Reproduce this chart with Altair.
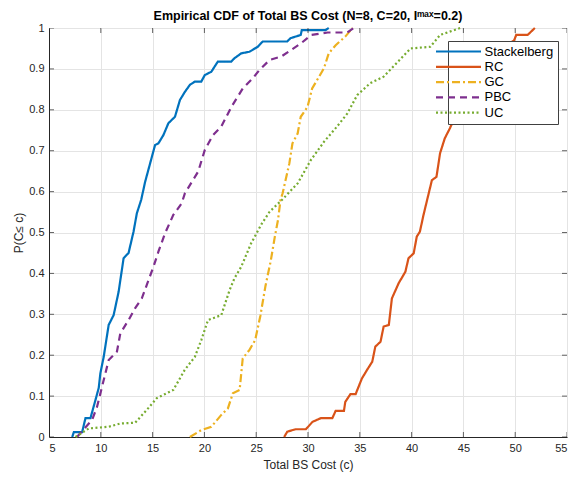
import altair as alt
import pandas as pd

series_names = ["Stackelberg", "RC", "GC", "PBC", "UC"]
colors = ["#0072BD", "#D95319", "#EDB120", "#7E2F8E", "#77AC30"]
dashes = [[1, 0], [1, 0], [8, 3, 2, 3], [7, 5], [2, 2.5]]

x_ticks = [5, 10, 15, 20, 25, 30, 35, 40, 45, 50, 55]
y_ticks = [0, 0.1, 0.2, 0.3, 0.4, 0.5, 0.6, 0.7, 0.8, 0.9, 1]

stack_x = [7.24, 7.4, 8.2, 8.52, 9.0, 9.48, 9.8, 9.96, 10.28, 10.76, 11.24, 11.72, 12.2, 12.68,
           13.16, 13.48, 13.9, 14.28, 14.76, 15.24, 15.56, 16.04, 16.52, 17.16, 17.64, 18.12,
           18.6, 19.08, 19.7, 20.04, 20.67, 21.3, 22.6, 22.9, 23.55, 24.35, 25.15, 25.63, 28.0,
           28.3, 29.3, 29.4, 31.7, 32.0]
stack_p = [0, 0.012, 0.012, 0.046, 0.046, 0.09, 0.12, 0.156, 0.196, 0.274, 0.298, 0.355, 0.437,
           0.45, 0.502, 0.547, 0.58, 0.624, 0.669, 0.714, 0.718, 0.738, 0.767, 0.783, 0.824, 0.844,
           0.861, 0.869, 0.869, 0.885, 0.893, 0.918, 0.918, 0.926, 0.938, 0.942, 0.954, 0.967,
           0.967, 0.975, 0.983, 0.995, 0.995, 1.0]

rc_x = [27.7, 28.0, 28.8, 29.8, 30.43, 31.23, 32.35, 32.67, 33.47, 33.6, 34.1, 34.6, 35.2, 35.7,
        36.2, 36.5, 37.0, 37.3, 37.8, 38.1, 38.75, 39.4, 39.7, 40.2, 40.5, 40.8, 41.15, 41.55,
        41.96, 42.4, 42.75, 43.2, 43.7, 44.5, 45.5, 47.0, 48.8, 49.9, 50.1, 51.2, 51.9]
rc_p = [0, 0.013, 0.019, 0.019, 0.037, 0.046, 0.046, 0.064, 0.064, 0.086, 0.105, 0.105, 0.143,
        0.164, 0.184, 0.221, 0.233, 0.27, 0.274, 0.339, 0.376, 0.404, 0.437, 0.449, 0.49, 0.502,
        0.543, 0.585, 0.628, 0.636, 0.694, 0.73, 0.755, 0.8, 0.85, 0.9, 0.95, 0.97, 0.983, 0.983,
        1.0]

gc_x = [18.6, 19.7, 20.67, 21.63, 22.27, 22.75, 23.4, 23.7, 24.35, 24.9, 25.4, 25.9, 26.4, 26.8,
        27.1, 27.35, 27.55, 28.2, 28.5, 29.0, 29.3, 29.95, 30.4, 31.07, 31.55, 32.0, 32.67, 33.6,
        34.3]
gc_p = [0, 0.017, 0.025, 0.054, 0.07, 0.107, 0.115, 0.192, 0.213, 0.237, 0.296, 0.37, 0.43, 0.49,
        0.53, 0.58, 0.596, 0.669, 0.718, 0.742, 0.783, 0.807, 0.852, 0.881, 0.902, 0.938, 0.958,
        0.979, 1.0]

pbc_x = [7.7, 9.16, 9.64, 10.12, 10.76, 11.56, 11.88, 12.68, 13.32, 13.96, 14.44, 15.08, 15.56,
         16.2, 17.0, 17.8, 18.12, 19.4, 20.04, 20.83, 21.63, 22.6, 23.7, 24.67, 25.3, 26.3, 27.4,
         28.35, 29.3, 30.3, 31.9, 33.8, 34.4]
pbc_p = [0, 0.042, 0.074, 0.123, 0.188, 0.209, 0.253, 0.286, 0.315, 0.339, 0.372, 0.416, 0.453,
         0.498, 0.543, 0.571, 0.596, 0.649, 0.702, 0.738, 0.759, 0.807, 0.852, 0.877, 0.897, 0.922,
         0.93, 0.946, 0.962, 0.983, 0.989, 0.989, 1.0]

uc_x = [7.56, 8.84, 10.76, 11.88, 13.32, 14.43, 15.4, 17.0, 18.1, 19.08, 19.7, 20.35, 21.63, 22.43,
        22.9, 23.55, 24.5, 25.5, 26.3, 27.5, 29.0, 30.27, 31.55, 32.8, 33.8, 34.75, 36.0, 37.3,
        38.4, 39.9, 41.8, 42.75, 44.7]
uc_p = [0, 0.021, 0.025, 0.033, 0.035, 0.066, 0.095, 0.115, 0.164, 0.196, 0.237, 0.286, 0.298,
        0.359, 0.388, 0.416, 0.473, 0.52, 0.551, 0.58, 0.62, 0.677, 0.722, 0.759, 0.791, 0.836,
        0.865, 0.881, 0.91, 0.95, 0.954, 0.983, 1.0]

rows = []
for name, xs, ps in zip(series_names,
                        [stack_x, rc_x, gc_x, pbc_x, uc_x],
                        [stack_p, rc_p, gc_p, pbc_p, uc_p]):
    for i, (x, p) in enumerate(zip(xs, ps)):
        rows.append({"series": name, "cost": x, "p": p, "i": i})
df = pd.DataFrame(rows)

FONT = "Liberation Sans"
AX = "#262626"

xscale = alt.Scale(domain=[5, 55], nice=False, zero=False)
yscale = alt.Scale(domain=[0, 1], nice=False, zero=False)

axis_common = dict(ticks=False, grid=True, gridColor="#e4e4e4", gridWidth=1,
                   domainColor=AX, domainWidth=1, labelColor=AX, labelFont=FONT,
                   labelFontSize=11, titleColor=AX, titleFont=FONT, titleFontSize=12,
                   titleFontWeight="normal")

legend = alt.Legend(title=None, orient="none", legendX=399, legendY=13, fillColor="white",
                    strokeColor="#404040", padding=4, symbolType="M-4.5,0H4.5", symbolSize=100,
                    symbolStrokeWidth=2.2, labelFont=FONT, labelFontSize=13, labelColor="black",
                    labelOffset=19.5, rowPadding=1.3)

lines = alt.Chart(df).mark_line(strokeWidth=2.2, strokeCap="butt").encode(
    x=alt.X("cost:Q", scale=xscale,
            axis=alt.Axis(values=x_ticks, title="Total BS Cost (c)", labelPadding=5,
                          titlePadding=6, **axis_common)),
    y=alt.Y("p:Q", scale=yscale,
            axis=alt.Axis(values=y_ticks, format="~g", title="P(C\u2264 c)", labelPadding=5,
                          titlePadding=3, **axis_common)),
    color=alt.Color("series:N", scale=alt.Scale(domain=series_names, range=colors),
                    legend=legend),
    strokeDash=alt.StrokeDash("series:N", scale=alt.Scale(domain=series_names, range=dashes),
                              legend=legend),
    order="i:Q",
)

tx = pd.DataFrame({"cost": x_ticks})
ty = pd.DataFrame({"p": y_ticks})
tick_style = dict(size=10, thickness=1, color=AX, clip=True)

bottom_t = alt.Chart(tx).mark_tick(orient="vertical", **tick_style).encode(
    x=alt.X("cost:Q", scale=xscale), y=alt.YDatum(0, type="quantitative"))
top_t = alt.Chart(tx).mark_tick(orient="vertical", **tick_style).encode(
    x=alt.X("cost:Q", scale=xscale), y=alt.YDatum(1, type="quantitative"))
left_t = alt.Chart(ty).mark_tick(orient="horizontal", **tick_style).encode(
    y=alt.Y("p:Q", scale=yscale), x=alt.XDatum(5, type="quantitative"))
right_t = alt.Chart(ty).mark_tick(orient="horizontal", **tick_style).encode(
    y=alt.Y("p:Q", scale=yscale), x=alt.XDatum(55, type="quantitative"))

chart = alt.layer(lines, bottom_t, top_t, left_t, right_t).properties(
    width=518, height=409,
    autosize=alt.AutoSizeParams(type="none"),
    padding={"left": 41, "top": 20, "right": 6, "bottom": 36},
    title=alt.Title("Empirical CDF of Total BS Cost (N=8, C=20, I\u1d50\u1d43\u02e3=0.2)",
                    font=FONT, fontSize=12.5, fontWeight="bold", color="black",
                    anchor="middle", offset=0),
).configure_view(stroke=AX, strokeWidth=1).configure(background="white")

chart.save("out.html", embed_options={"renderer": "svg", "actions": False})
